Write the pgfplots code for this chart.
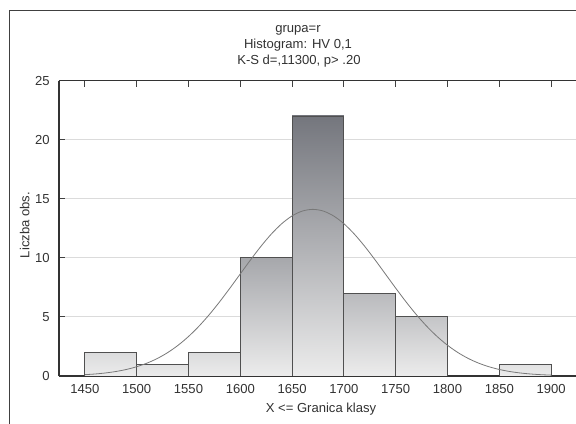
\documentclass[border=0pt]{standalone}
\usepackage{pgfplots}
\pgfplotsset{compat=1.18}
\usepackage{fontspec}
\setmainfont{Liberation Sans}
\definecolor{barTop}{RGB}{116,118,125}
\definecolor{barBot}{RGB}{236,236,236}
\definecolor{barEdge}{RGB}{80,80,80}
\definecolor{txt}{RGB}{50,50,50}
\definecolor{curve}{RGB}{120,120,120}
\begin{document}
\begin{tikzpicture}
\draw[black!75, line width=1.1pt] (7pt,-2pt) -- (7pt,310pt) -- (440pt,310pt);
\begin{axis}[
  scale only axis,
  width=391.75pt, height=221.6pt,
  at={(44.25pt,36pt)}, anchor=south west,
  xmin=1425, xmax=1929.2, ymin=0, ymax=25,
  axis x line=box, axis y line=left,
  x axis line style={-}, y axis line style={-},
  xtick={1450,1500,...,1900},
  ytick={0,5,...,25},
  tick align=inside,
  major tick length=4.5pt,
  tick style={black!75, line width=0.6pt},
  axis line style={black!80, line width=0.8pt},
  ymajorgrids,
  grid style={black!14, line width=0.75pt},
  /pgf/number format/assume math mode=true,
  /pgf/number format/1000 sep={},
  ticklabel style={font=\fontsize{9.8}{11}\selectfont, text=txt},
  xticklabel style={yshift=-2.5pt},
  yticklabel style={xshift=-3.5pt},
  clip=true,
]
\addplot[ybar interval, draw=barEdge, line width=0.7pt, top color=barTop!14!barBot, bottom color=barBot] coordinates {(1450,2) (1500,2)};
\addplot[ybar interval, draw=barEdge, line width=0.7pt, top color=barTop!9!barBot, bottom color=barBot] coordinates {(1500,1) (1550,1)};
\addplot[ybar interval, draw=barEdge, line width=0.7pt, top color=barTop!14!barBot, bottom color=barBot] coordinates {(1550,2) (1600,2)};
\addplot[ybar interval, draw=barEdge, line width=0.7pt, top color=barTop!58!barBot, bottom color=barBot] coordinates {(1600,10) (1650,10)};
\addplot[ybar interval, draw=barEdge, line width=0.7pt, top color=barTop!100!barBot, bottom color=barBot] coordinates {(1650,22) (1700,22)};
\addplot[ybar interval, draw=barEdge, line width=0.7pt, top color=barTop!42!barBot, bottom color=barBot] coordinates {(1700,7) (1750,7)};
\addplot[ybar interval, draw=barEdge, line width=0.7pt, top color=barTop!33!barBot, bottom color=barBot] coordinates {(1750,5) (1800,5)};
\addplot[ybar interval, draw=barEdge, line width=0.7pt, top color=barTop!9!barBot, bottom color=barBot] coordinates {(1850,1) (1900,1)};
\addplot[curve, line width=0.6pt, smooth] coordinates {
(1450,0.112) (1460,0.171) (1470,0.258) (1480,0.381) (1490,0.552)
(1500,0.784) (1510,1.090) (1520,1.486) (1530,1.986) (1540,2.602)
(1550,3.341) (1560,4.204) (1570,5.187) (1580,6.273) (1590,7.435)
(1600,8.638) (1610,9.837) (1620,10.981) (1630,12.015) (1640,12.886)
(1650,13.547) (1660,13.959) (1670,14.1) (1680,13.959) (1690,13.547)
(1700,12.886) (1710,12.015) (1720,10.981) (1730,9.837) (1740,8.638)
(1750,7.435) (1760,6.273) (1770,5.187) (1780,4.204) (1790,3.341)
(1800,2.602) (1810,1.986) (1820,1.486) (1830,1.090) (1840,0.784)
(1850,0.552) (1860,0.381) (1870,0.258) (1880,0.171) (1890,0.112)
(1900,0.072)};
\end{axis}
\begin{scope}[every node/.style={font=\fontsize{9.8}{11}\selectfont, text=txt, inner sep=0pt}]
\node[anchor=base] at (223.5pt,293.6pt) {grupa=r};
\node[anchor=base] at (223.5pt,281.6pt) {Histogram: HV 0,1};
\node[anchor=base] at (224.2pt,269.6pt) {K-S d=,11300, p> .20};
\node[anchor=base] at (240.75pt,8.6pt) {X <= Granica klasy};
\node[rotate=90] at (18.5pt,149.25pt) {Liczba obs.};
\end{scope}
\pgfresetboundingbox
\useasboundingbox (0,0) rectangle (432pt,318pt);
\end{tikzpicture}
\end{document}
